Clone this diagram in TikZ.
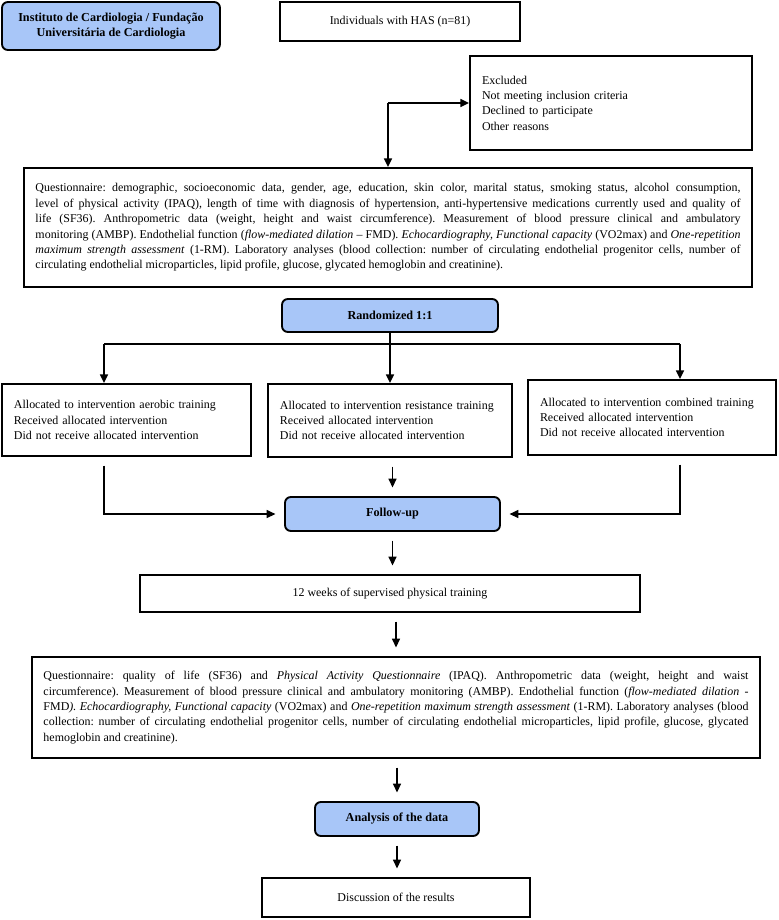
\documentclass[tikz,border=0pt]{standalone}
\usepackage{fontspec}
\setmainfont{Liberation Serif}
\usetikzlibrary{arrows.meta}
\frenchspacing

\definecolor{stageblue}{RGB}{168,198,248}

\begin{document}
\begin{tikzpicture}[
  x=0.03cm, y=-0.03cm,
  font=\fontsize{10.2}{13.1}\selectfont,
  plain/.style={draw, line width=1.6pt, align=center, inner sep=2pt},
  stage/.style={draw, line width=1.6pt, rounded corners=5pt, fill=stageblue,
                align=center, font=\fontsize{10.4}{13.1}\selectfont\bfseries},
  listbox/.style={draw, line width=1.6pt, align=left, inner xsep=0.36cm},
  textbox/.style={draw, line width=1.6pt, align=justify, inner xsep=0.345cm,
                  text width=21.15cm},
  wire/.style={line width=1.3pt},
  arr/.style={wire, -{Triangle[length=2.6mm, width=2.4mm]}},
  spaced/.style={shorten <=2.6mm, shorten >=2.6mm},
]
\useasboundingbox (0,0) rectangle (778,920);

\node[stage, minimum width=6.54cm, minimum height=1.44cm] (inst) at (111,26)
  {Instituto de Cardiologia / Fundação\\Universitária de Cardiologia};
\node[plain, minimum width=7.2cm, minimum height=1.17cm] (pop) at (400,21.5)
  {Individuals with HAS (n=81)};
\node[listbox, text width=7.74cm, minimum height=2.82cm] (excl) at (611,103)
  {Excluded\\Not meeting inclusion criteria\\Declined to participate\\Other reasons};
\node[textbox, minimum height=3.57cm] (base) at (388,227.5)
  {Questionnaire: demographic, socioeconomic data, gender, age, education, skin color, marital status, smoking status, alcohol consumption,\linebreak
   level of physical activity (IPAQ), length of time with diagnosis of hypertension, anti-hypertensive medications currently used and quality of\linebreak
   life (SF36). Anthropometric data (weight, height and waist circumference). Measurement of blood pressure clinical and ambulatory\linebreak
   monitoring (AMBP). Endothelial function (\emph{flow-mediated dilation} -- FMD). \emph{Echocardiography, Functional capacity} (VO2max) and \emph{One-repetition}\linebreak
   \emph{maximum strength assessment} (1-RM). Laboratory analyses (blood collection: number of circulating endothelial progenitor cells, number of\linebreak
   circulating endothelial microparticles, lipid profile, glucose, glycated hemoglobin and creatinine).};
\node[stage, minimum width=6.48cm, minimum height=0.99cm] (rand) at (390,315.5)
  {Randomized 1:1};
\node[listbox, text width=6.75cm, minimum height=2.16cm] (aero) at (126.5,420)
  {Allocated to intervention aerobic training\\Received allocated intervention\\Did not receive allocated intervention};
\node[listbox, text width=6.6cm, minimum height=2.19cm] (resist) at (390,420.5)
  {Allocated to intervention resistance training\\Received allocated intervention\\Did not receive allocated intervention};
\node[listbox, text width=6.72cm, minimum height=2.25cm] (comb) at (652,417.5)
  {Allocated to intervention combined training\\Received allocated intervention\\Did not receive allocated intervention};
\node[stage, minimum width=6.45cm, minimum height=1.02cm] (follow) at (392.5,514)
  {Follow-up};
\node[plain, minimum width=15cm, minimum height=1.11cm] (train) at (390,593.5)
  {12 weeks of supervised physical training};
\node[textbox, minimum height=3.03cm] (final) at (396,707.5)
  {Questionnaire: quality of life (SF36) and \emph{Physical Activity Questionnaire} (IPAQ). Anthropometric data (weight, height and waist\linebreak
   circumference). Measurement of blood pressure clinical and ambulatory monitoring (AMBP). Endothelial function (\emph{flow-mediated dilation} -\linebreak
   FMD\emph{). Echocardiography, Functional capacity} (VO2max) and \emph{One-repetition maximum strength assessment} (1-RM). Laboratory analyses (blood\linebreak
   collection: number of circulating endothelial progenitor cells, number of circulating endothelial microparticles, lipid profile, glucose, glycated\linebreak
   hemoglobin and creatinine).};
\node[stage, minimum width=4.92cm, minimum height=1.02cm] (analysis) at (397,819)
  {Analysis of the data};
\node[plain, minimum width=8.04cm, minimum height=1.17cm] (disc) at (396,897.5)
  {Discussion of the results};

\coordinate (split) at (base.north |- excl.west);
\coordinate (forkL) at (104,344);
\coordinate (forkR) at (680,344);

\draw[arr] (split) -- (excl.west);
\draw[arr] (split) -- (base.north);
\draw[wire] (forkL) -- (forkR);
\draw[arr] (rand.south) -- (resist.north);
\draw[arr] (forkL) -- (forkL |- aero.north);
\draw[arr] (forkR) -- (forkR |- comb.north);
\draw[arr, spaced] (forkL |- aero.south) |- (follow.west);
\draw[arr, spaced] (forkR |- comb.south) |- (follow.east);
\draw[arr, spaced] (follow.north |- resist.south) -- (follow.north);
\draw[arr, spaced] (follow.south) -- (follow.south |- train.north);
\draw[arr, spaced] (final.north |- train.south) -- (final.north);
\draw[arr, spaced] (analysis.north |- final.south) -- (analysis.north);
\draw[arr, spaced] (analysis.south) -- (analysis.south |- disc.north);
\end{tikzpicture}
\end{document}
